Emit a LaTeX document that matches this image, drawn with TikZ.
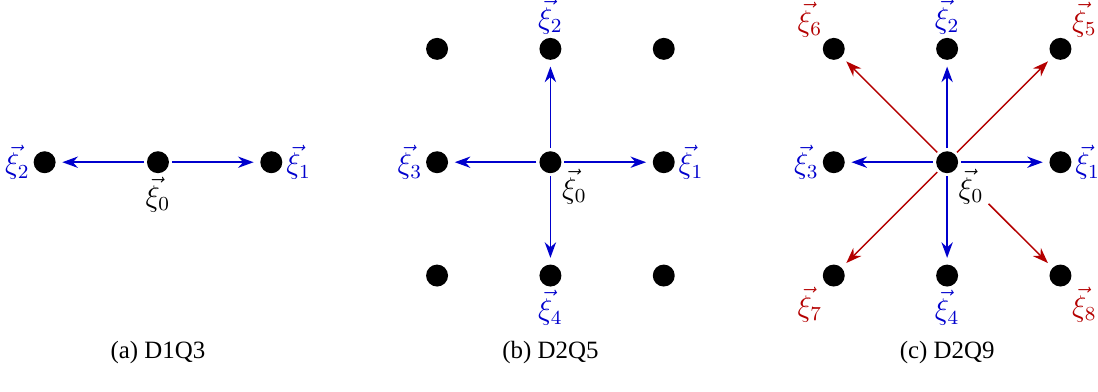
\documentclass[tikz,border=0pt]{standalone}
\usepackage{amsmath}
\usepackage{fontspec}
\newfontfamily\capfont{Liberation Serif}
\usepackage{tikz}
\usetikzlibrary{arrows.meta, positioning}

\definecolor{velblue}{RGB}{0,0,205}
\definecolor{velred}{RGB}{180,0,0}

\begin{document}
\begin{tikzpicture}[
        node distance=1.6cm, on grid,
        dot/.style={circle, fill=black, inner sep=0pt, minimum size=0.31cm},
        lab/.style={inner sep=1.2pt, font=\large},
        arrow/.style={semithick, -{Stealth[length=2.2mm, width=1.6mm]}, shorten >=2.5pt, shorten <=1pt},
        caption/.style={font=\capfont}
    ]
        \useasboundingbox (0,-3.23) rectangle (15.5,2.29);

        % (a) D1Q3
        \node[dot, label={[lab]below:$\vec{\xi}_0$}] (a0) at (2.23,0) {};
        \node[dot, right=of a0, label={[lab, velblue]right:$\vec{\xi}_1$}] (a1) {};
        \node[dot, left=of a0, label={[lab, velblue]left:$\vec{\xi}_2$}] (a2) {};
        \node[caption, below=2.68cm of a0] (capa) {(a) D1Q3};

        \draw [arrow, velblue] (a0) -- (a1);
        \draw [arrow, velblue] (a0) -- (a2);

        % (b) D2Q5
        \node[dot, label={[lab, yshift=2pt]below right:$\vec{\xi}_0$}] (b0) at (7.77,0) {};
        \node[dot, right=of b0, label={[lab, velblue]right:$\vec{\xi}_1$}] (b1) {};
        \node[dot, above=of b0, label={[lab, velblue]above:$\vec{\xi}_2$}] (b2) {};
        \node[dot, left=of b0, label={[lab, velblue]left:$\vec{\xi}_3$}] (b3) {};
        \node[dot, below=of b0, label={[lab, velblue]below:$\vec{\xi}_4$}] (b4) {};
        \node[dot, above=of b1] (b5) {};
        \node[dot, above=of b3] (b6) {};
        \node[dot, below=of b3] (b7) {};
        \node[dot, below=of b1] (b8) {};
        \node[caption, below=2.68cm of b0] (capb) {(b) D2Q5};

        \draw [arrow, velblue] (b0) -- (b1);
        \draw [arrow, velblue] (b0) -- (b2);
        \draw [arrow, velblue] (b0) -- (b3);
        \draw [arrow, velblue] (b0) -- (b4);

        % (c) D2Q9
        \node[dot, label={[lab, name=c0lab, yshift=2pt]below right:$\vec{\xi}_0$}] (c0) at (13.37,0) {};
        \node[dot, right=of c0, label={[lab, velblue]right:$\vec{\xi}_1$}] (c1) {};
        \node[dot, above=of c0, label={[lab, velblue]above:$\vec{\xi}_2$}] (c2) {};
        \node[dot, left=of c0, label={[lab, velblue]left:$\vec{\xi}_3$}] (c3) {};
        \node[dot, below=of c0, label={[lab, velblue]below:$\vec{\xi}_4$}] (c4) {};
        \node[dot, above=of c1, label={[lab, velred]above right:$\vec{\xi}_5$}] (c5) {};
        \node[dot, above=of c3, label={[lab, velred]above left:$\vec{\xi}_6$}] (c6) {};
        \node[dot, below=of c3, label={[lab, velred]below left:$\vec{\xi}_7$}] (c7) {};
        \node[dot, below=of c1, label={[lab, velred]below right:$\vec{\xi}_8$}] (c8) {};
        \node[caption, below=2.68cm of c0] (capc) {(c) D2Q9};

        \draw [arrow, velblue] (c0) -- (c1);
        \draw [arrow, velblue] (c0) -- (c2);
        \draw [arrow, velblue] (c0) -- (c3);
        \draw [arrow, velblue] (c0) -- (c4);
        \draw [arrow, velred] (c0) -- (c5);
        \draw [arrow, velred] (c0) -- (c6);
        \draw [arrow, velred] (c0) -- (c7);
        \draw [arrow, velred] (c0lab) -- (c8);
    \end{tikzpicture}
\end{document}
